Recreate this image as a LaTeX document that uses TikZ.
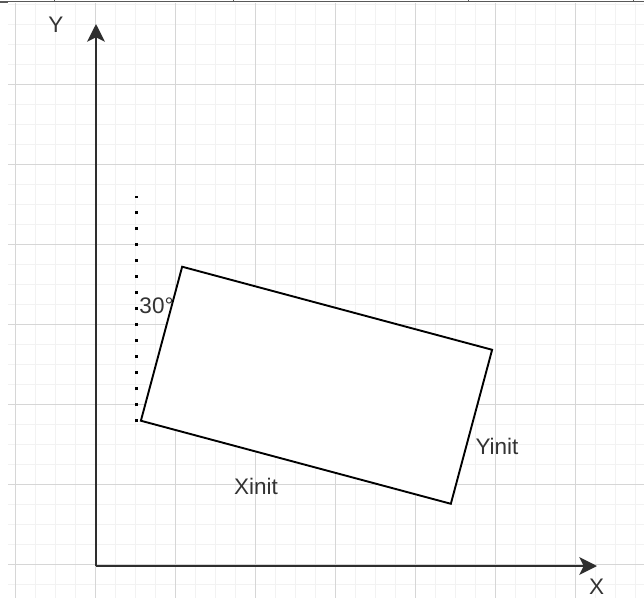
\documentclass[tikz,border=0pt]{standalone}
\usepackage{fontspec}
\setmainfont{Liberation Sans}
\usetikzlibrary{arrows.meta}

\begin{document}
\begin{tikzpicture}[x=0.025cm, y=-0.025cm, >={Stealth[length=12.5pt, width=12.5pt, inset=3pt]}, font=\fontsize{16}{19}\selectfont]
	\definecolor{gridminor}{RGB}{242,242,242}
	\definecolor{gridmajor}{RGB}{214,214,214}
	\definecolor{textgray}{RGB}{51,51,51}
	\tikzset{
		axis/.style={->, line width=1.9pt, black!82},
		box/.style={draw, fill=white, line width=1.35pt, minimum width=8.02cm, minimum height=3.985cm, inner sep=0pt, outer sep=0pt},
		lbl/.style={text=textgray, inner sep=0pt},
	}

	\useasboundingbox (0,0) rectangle (644,598);
	\fill[white] (0,0) rectangle (644,598);

	% 网格
	\foreach \gx in {15.7,35.7,...,635.7}
		\draw[gridminor, line width=0.6pt] (\gx,3) -- (\gx,598);
	\foreach \gy in {4,24,...,584}
		\draw[gridminor, line width=0.6pt] (8,\gy) -- (644,\gy);
	\foreach \gx in {15.7,95.7,...,635.7}
		\draw[gridmajor, line width=0.6pt] (\gx,3) -- (\gx,598);
	\foreach \gy in {84,164,...,564}
		\draw[gridmajor, line width=0.6pt] (8,\gy) -- (644,\gy);

	% 顶部边框
	\draw[black!65, line width=0.8pt] (0,1.5) -- (644,1.5);
	\foreach \tx in {54,233,468,633}
		\draw[black!65, line width=0.6pt] (\tx,0) -- (\tx,1.5);
	\draw[black!65, line width=1pt] (0,2.5) -- (8,2.5);

	% 坐标轴
	\coordinate (O) at (96,566);
	\coordinate (ytip) at (96,24);
	\coordinate (xtip) at (597,566);
	\draw[axis] (O) -- (ytip);
	\draw[axis] (O) -- (xtip);
	\node[lbl] (ylabel) at (56,25) {Y};
	\node[lbl] (xlabel) at (596.5,586.5) {X};

	% 竖直点线与角度
	\coordinate (dotbot) at (136.7,422);
	\coordinate (dottop) at (136.7,196);
	\draw[line width=2pt, dash pattern=on 2pt off 9.38pt] (dotbot) -- (dottop);
	\node[lbl] (angle) at (156.5,305.5) {30°};

	% 旋转的矩形
	\node[box, rotate=-15] (rect) at (316.5,385.25) {};
	\node[lbl] (yinit) at (497,446) {Yinit};
	\node[lbl] (xinit) at (256,486) {Xinit};
\end{tikzpicture}
\end{document}
